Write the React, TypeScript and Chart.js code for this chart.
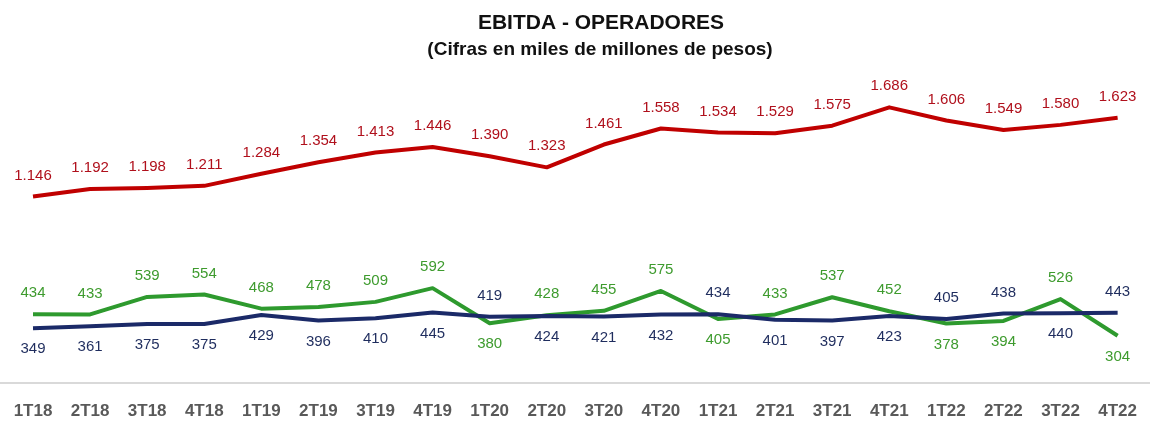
import React, { useEffect, useRef } from "react";
import { Chart, registerables } from "chart.js";

Chart.register(...registerables);

const categories = [
  "1T18", "2T18", "3T18", "4T18", "1T19", "2T19", "3T19", "4T19", "1T20", "2T20",
  "3T20", "4T20", "1T21", "2T21", "3T21", "4T21", "1T22", "2T22", "3T22", "4T22",
];
const seriesRed = [1146, 1192, 1198, 1211, 1284, 1354, 1413, 1446, 1390, 1323, 1461, 1558, 1534, 1529, 1575, 1686, 1606, 1549, 1580, 1623];
const seriesGreen = [434, 433, 539, 554, 468, 478, 509, 592, 380, 428, 455, 575, 405, 433, 537, 452, 378, 394, 526, 304];
const seriesBlue = [349, 361, 375, 375, 429, 396, 410, 445, 419, 424, 421, 432, 434, 401, 397, 423, 405, 438, 440, 443];

const titleText = "EBITDA - OPERADORES";
const subtitleText = "(Cifras en miles de millones de pesos)";

const RED = "#C00000";
const GREEN = "#2E9A2E";
const NAVY = "#1B2A68";

function fmt(v: number): string {
  if (v >= 1000) {
    const th = Math.floor(v / 1000);
    const rest = String(v % 1000).padStart(3, "0");
    return th + "." + rest;
  }
  return String(v);
}

const labelPlugin = {
  id: "pointLabels",
  afterDatasetsDraw(chart: any) {
    const ctx = chart.ctx;
    ctx.save();
    ctx.font = "15px 'Liberation Sans', Arial, sans-serif";
    ctx.textAlign = "center";
    ctx.textBaseline = "middle";
    chart.data.datasets.forEach((ds: any, di: number) => {
      const meta = chart.getDatasetMeta(di);
      meta.data.forEach((pt: any, i: number) => {
        const v = ds.data[i];
        let above = true;
        if (ds.compare) above = v >= ds.compare[i];
        ctx.fillStyle = ds.labelColor;
        const y = above ? pt.y - 21 : pt.y + 21;
        ctx.fillText(fmt(v), pt.x, y);
      });
    });
    ctx.restore();
  },
};

const decorPlugin = {
  id: "decor",
  beforeDatasetsDraw(chart: any) {
    const ctx = chart.ctx;
    ctx.save();
    ctx.strokeStyle = "#D9D9D9";
    ctx.lineWidth = 2;
    ctx.beginPath();
    ctx.moveTo(0, 383);
    ctx.lineTo(chart.width, 383);
    ctx.stroke();
    ctx.restore();
  },
  afterDraw(chart: any) {
    const ctx = chart.ctx;
    ctx.save();
    ctx.fillStyle = "#111111";
    ctx.textAlign = "center";
    ctx.textBaseline = "alphabetic";
    ctx.font = "bold 21px 'Liberation Sans', Arial, sans-serif";
    ctx.fillText(titleText, 601, 29);
    ctx.font = "bold 19px 'Liberation Sans', Arial, sans-serif";
    ctx.fillText(subtitleText, 600, 55);
    ctx.restore();
  },
};

export default function App() {
  const ref = useRef<HTMLCanvasElement | null>(null);

  useEffect(() => {
    if (!ref.current) return;
    const chart = new Chart(ref.current, {
      type: "line",
      data: {
        labels: categories,
        datasets: [
          {
            label: "Rojo",
            data: seriesRed,
            borderColor: RED,
            borderWidth: 4,
            pointRadius: 0,
            tension: 0,
            order: 3,
            labelColor: "#B0101C",
          } as any,
          {
            label: "Verde",
            data: seriesGreen,
            borderColor: GREEN,
            borderWidth: 4,
            pointRadius: 0,
            tension: 0,
            order: 2,
            labelColor: "#3E9B2E",
            compare: seriesBlue,
          } as any,
          {
            label: "Azul",
            data: seriesBlue,
            borderColor: NAVY,
            borderWidth: 4,
            pointRadius: 0,
            tension: 0,
            order: 1,
            labelColor: "#1F2D5E",
            compare: seriesGreen,
          } as any,
        ],
      },
      options: {
        responsive: false,
        animation: false,
        maintainAspectRatio: false,
        layout: { padding: { top: 50, left: 33, right: 23, bottom: -14 } },
        elements: { line: { borderJoinStyle: "round", borderCapStyle: "butt" } },
        plugins: {
          legend: { display: false },
          title: { display: false },
          tooltip: { enabled: false },
        },
        scales: {
          x: {
            offset: false,
            grid: { display: false, drawTicks: false },
            border: { display: false },
            ticks: {
              color: "#595959",
              padding: 13,
              maxRotation: 0,
              autoSkip: false,
              font: { family: "'Liberation Sans', Arial, sans-serif", size: 17, weight: "bold", lineHeight: 25 / 17 },
            },
          },
          y: {
            display: false,
            min: 0,
            max: 2033,
          },
        },
      },
      plugins: [labelPlugin, decorPlugin],
    });
    return () => chart.destroy();
  }, []);

  return (
    <div style={{ width: 1150, height: 423, background: "#ffffff" }}>
      <style>{"body{margin:0;overflow:hidden}"}</style>
      <canvas ref={ref} width={1150} height={423} style={{ display: "block" }} />
    </div>
  );
}
